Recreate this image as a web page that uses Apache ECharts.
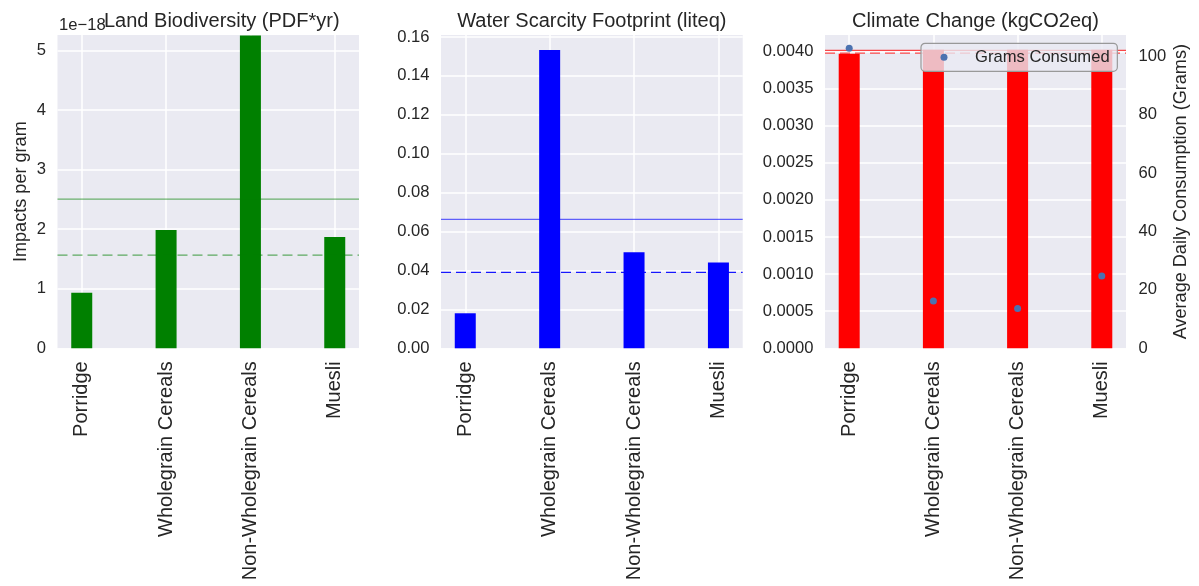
<!DOCTYPE html>
<html><head><meta charset="utf-8">
<script src="https://cdn.jsdelivr.net/npm/echarts@6/dist/echarts.min.js"></script>
<style>html,body{margin:0;padding:0;background:#fff}#c{width:1199px;height:586px}</style>
</head><body><div id="c"></div><script>
// ---- data ----
const categories = ['Porridge', 'Wholegrain Cereals', 'Non-Wholegrain Cereals', 'Muesli'];
const catPos = [0, 1, 2, 3];
const landBio = [0.933, 1.985, 5.25, 1.867];          // ×1e−18 PDF*yr per gram
const landBioRefs = [2.505, 1.565];                    // solid, dashed
const water = [0.0180, 0.1533, 0.0494, 0.0441];        // liteq per gram
const waterRefs = [0.0663, 0.0390];
const climate = [0.003968, 0.004022, 0.004022, 0.004022]; // kgCO2eq per gram
const climateRefs = [0.004012, 0.003977];
const grams = [102.8, 16.2, 13.6, 24.8];               // average daily consumption
const landTicks = [0, 1, 2, 3, 4, 5];
const waterTicks = [0, 0.02, 0.04, 0.06, 0.08, 0.10, 0.12, 0.14, 0.16];
const climateTicks = [0, 0.0005, 0.0010, 0.0015, 0.0020, 0.0025, 0.0030, 0.0035, 0.0040];
const gramTicks = [0, 20, 40, 60, 80, 100];
const X_MIN = -0.2875, X_MAX = 3.2875;

// ---- styling ----
const FONT = '"Liberation Sans", Arial, sans-serif';
const TXT = '#262626';
const BG = '#EAEAF2';
const grids = [
  {left: 57.5, top: 35, width: 301.5, height: 313.3},
  {left: 441, top: 35, width: 301.7, height: 313.3},
  {left: 825, top: 35, width: 301, height: 313.3}
];

function xAxis(i) {
  return {
    type: 'value', gridIndex: i, min: X_MIN, max: X_MAX,
    axisLine: {show: false},
    axisTick: {show: false, customValues: catPos},
    axisLabel: {customValues: catPos, rotate: 90, fontSize: 20, color: TXT, fontFamily: FONT, margin: 13,
      formatter: v => categories[Math.round(v)]},
    splitLine: {show: true, lineStyle: {color: '#fff', width: 1.5}}
  };
}
function yAxis(i, max, ticks, fmt, extra) {
  return Object.assign({
    type: 'value', gridIndex: i, min: 0, max: max,
    axisLine: {show: false},
    axisTick: {show: false, customValues: ticks},
    axisLabel: {customValues: ticks, fontSize: 16.6, color: TXT, fontFamily: FONT, margin: 11.5, formatter: fmt},
    splitLine: {show: true, lineStyle: {color: '#fff', width: 1.5}}
  }, extra || {});
}
function bars(i, vals, color) {
  return {
    type: 'bar', xAxisIndex: i, yAxisIndex: i,
    data: vals.map((v, k) => [catPos[k], v]),
    barWidth: 21, z: 2,
    itemStyle: {color: color}
  };
}
function refLine(i, v, color, dashed) {
  return {
    type: 'line', xAxisIndex: i, yAxisIndex: i, silent: true, z: 3,
    data: [[X_MIN, v], [X_MAX, v]],
    symbol: 'none', showSymbol: false,
    lineStyle: {color: color, width: 1.2, type: dashed ? [10, 5] : 'solid'}
  };
}

const chart = echarts.init(document.getElementById('c'), null, {renderer: 'canvas'});
const titleStyle = {fontSize: 20, fontWeight: 'normal', color: TXT, fontFamily: FONT};
chart.setOption({
  animation: false,
  backgroundColor: '#fff',
  textStyle: {fontFamily: FONT},
  title: [
    {text: 'Land Biodiversity (PDF*yr)', left: 104, top: 11, padding: 0, textStyle: titleStyle},
    {text: 'Water Scarcity Footprint (liteq)', left: 591.8, textAlign: 'center', top: 11, padding: 0, textStyle: titleStyle},
    {text: 'Climate Change (kgCO2eq)', left: 975.5, textAlign: 'center', top: 11, padding: 0, textStyle: titleStyle},
    {text: '1e\u221218', left: 59, top: 17, padding: 0, textStyle: {fontSize: 16.6, fontWeight: 'normal', color: TXT, fontFamily: FONT}}
  ],
  legend: {
    data: ['Grams Consumed'], selectedMode: false,
    left: 921, top: 43.3, orient: 'horizontal',
    padding: [5.5, 7.7, 5.5, 19.5],
    itemWidth: 7, itemHeight: 7, icon: 'circle',
    textStyle: {fontSize: 16.6, color: TXT, fontFamily: FONT, padding: [0, 0, 0, 22.5]},
    backgroundColor: 'rgba(234,234,242,0.8)', borderColor: '#999', borderWidth: 1.2, borderRadius: 4
  },
  grid: grids.map(g => Object.assign({show: true, backgroundColor: BG, borderWidth: 0, containLabel: false, outerBoundsMode: 'none'}, g)),
  xAxis: [xAxis(0), xAxis(1), xAxis(2)],
  yAxis: [
    yAxis(0, 5.26, landTicks, v => String(v), {name: 'Impacts per gram', nameLocation: 'middle', nameGap: 28, nameRotate: 90,
      nameMoveOverlap: false, nameTextStyle: {fontSize: 18.1, color: TXT, fontFamily: FONT}}),
    yAxis(1, 0.161, waterTicks, v => v.toFixed(2)),
    yAxis(2, 0.00422, climateTicks, v => v.toFixed(4)),
    yAxis(2, 107.3, gramTicks, v => String(v), {position: 'right', splitLine: {show: false},
      axisLabel: {customValues: gramTicks, fontSize: 16.6, color: TXT, fontFamily: FONT, margin: 12.5},
      name: 'Average Daily Consumption (Grams)', nameLocation: 'middle', nameGap: 46, nameRotate: 90,
      nameMoveOverlap: false, nameTextStyle: {fontSize: 18.1, color: TXT, fontFamily: FONT}})
  ],
  series: [
    bars(0, landBio, '#008000'),
    refLine(0, landBioRefs[0], 'rgba(0,128,0,0.55)', false),
    refLine(0, landBioRefs[1], 'rgba(0,128,0,0.6)', true),
    bars(1, water, '#0000FF'),
    refLine(1, waterRefs[0], 'rgba(0,0,255,0.6)', false),
    refLine(1, waterRefs[1], 'rgba(0,0,255,0.9)', true),
    bars(2, climate, '#FF0000'),
    refLine(2, climateRefs[0], 'rgba(255,0,0,0.7)', false),
    refLine(2, climateRefs[1], 'rgba(255,0,0,0.7)', true),
    {type: 'scatter', name: 'Grams Consumed', xAxisIndex: 2, yAxisIndex: 3,
      data: grams.map((v, k) => [catPos[k], v]), symbolSize: 7, itemStyle: {color: '#4C72B0', opacity: 1}, z: 4}
  ]
});
</script></body></html>
